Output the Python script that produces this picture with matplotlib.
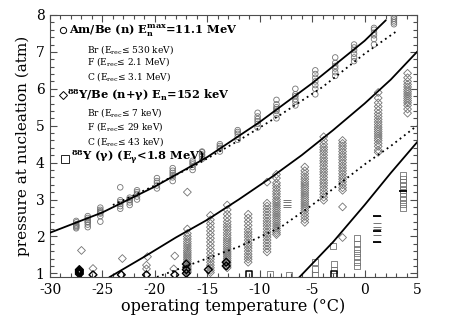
import matplotlib
matplotlib.use("Agg")
import matplotlib.pyplot as plt

plt.rcParams['font.family'] = ['DejaVu Serif', 'DejaVu Sans']
plt.rcParams['mathtext.fontset'] = 'dejavuserif'

# ---------------- data ----------------
# Am/Be (n) : circles, clusters per temperature
am_T = [-27.5, -26.4, -25.2, -23.3, -22.4, -21.7, -19.8, -18.3, -16.4, -15.5,
        -13.8, -12.1, -10.2, -8.4, -6.6, -4.7, -2.8, -1.0, 0.9, 2.8]
am_P = [
    [2.22, 2.28, 2.33, 2.38, 2.42, 2.30, 2.25],
    [2.25, 2.32, 2.38, 2.45, 2.50, 2.40, 2.55],
    [2.40, 2.55, 2.62, 2.68, 2.72, 2.78, 2.65],
    [2.75, 2.82, 2.88, 2.93, 2.98, 3.33],
    [2.85, 2.92, 2.98, 3.05, 3.00],
    [3.00, 3.08, 3.15, 3.20, 3.25],
    [3.30, 3.38, 3.45, 3.50, 3.58],
    [3.50, 3.60, 3.66, 3.72, 3.78, 3.85],
    [3.80, 3.88, 3.95, 4.00, 4.05],
    [4.10, 4.18, 4.22, 4.28, 4.30],
    [4.30, 4.38, 4.45, 4.50, 4.40],
    [4.62, 4.70, 4.78, 4.83, 4.88],
    [4.95, 5.05, 5.12, 5.18, 5.25, 5.35],
    [5.20, 5.30, 5.40, 5.45, 5.50, 5.58, 5.70],
    [5.55, 5.65, 5.72, 5.80, 5.85, 6.00],
    [5.85, 6.00, 6.10, 6.20, 6.30, 6.40, 6.50],
    [6.35, 6.45, 6.55, 6.62, 6.70, 6.85],
    [6.75, 6.85, 6.95, 7.05, 7.12, 7.20],
    [7.20, 7.35, 7.45, 7.52, 7.60, 7.65],
    [7.75, 7.80, 7.85, 7.90, 7.95],
]

# 88Y/Be (n+gamma) : diamonds, columns per temperature
ybe_T = [-16.9, -14.7, -13.1, -11.1, -9.3, -8.4, -5.7, -3.9, -2.1, 1.3, 4.1]
ybe_P = [
    [2.20, 2.08, 2.00, 1.93, 1.86, 1.80, 1.74, 1.68, 1.62, 1.57, 1.52, 1.47,
     1.42, 1.37, 1.32, 1.27, 1.22, 1.18, 1.14, 1.10, 1.06, 1.02],
    [2.57, 2.45, 2.35, 2.25, 2.15, 2.05, 1.95, 1.85, 1.75, 1.65, 1.55, 1.45,
     1.38, 1.30, 1.22, 1.15, 1.08, 1.02],
    [2.85, 2.72, 2.60, 2.50, 2.40, 2.32, 2.25, 2.18, 2.10, 2.03, 1.96, 1.90,
     1.84, 1.78, 1.72, 1.66, 1.60, 1.55, 1.50, 1.45, 1.40, 1.35, 1.30, 1.25,
     1.20, 1.15],
    [2.60, 2.50, 2.40, 2.30, 2.20, 2.12, 2.05, 1.98, 1.90, 1.82, 1.75, 1.68,
     1.60, 1.52, 1.45, 1.38, 1.30],
    [2.90, 2.82, 2.74, 2.66, 2.58, 2.50, 2.42, 2.35, 2.28, 2.20, 2.12, 2.05,
     1.98, 1.90, 1.82, 1.74, 1.66, 1.58],
    [3.58, 3.45, 3.38, 3.30, 3.22, 3.15, 3.08, 3.00, 2.94, 2.88, 2.82, 2.76,
     2.70, 2.64, 2.58, 2.52, 2.46, 2.40, 2.34, 2.28, 2.22, 2.16, 2.10, 2.05],
    [3.88, 3.78, 3.70, 3.62, 3.55, 3.48, 3.42, 3.36, 3.30, 3.24, 3.18, 3.12,
     3.06, 3.00, 2.94, 2.88, 2.82, 2.76, 2.70, 2.62, 2.54, 2.46, 2.38],
    [4.70, 4.60, 4.50, 4.42, 4.35, 4.28, 4.20, 4.12, 4.05, 3.98, 3.90, 3.82,
     3.75, 3.68, 3.60, 3.52, 3.45, 3.38, 3.30, 3.22, 3.14, 3.06, 2.98],
    [4.60, 4.52, 4.45, 4.38, 4.30, 4.22, 4.15, 4.08, 4.00, 3.92, 3.85, 3.78,
     3.70, 3.62, 3.55, 3.48, 3.40, 3.32, 3.25],
    [5.90, 5.75, 5.62, 5.52, 5.42, 5.33, 5.25, 5.17, 5.10, 5.03, 4.96, 4.90,
     4.84, 4.78, 4.72, 4.66, 4.60, 4.52, 4.44, 4.34],
    [6.42, 6.30, 6.20, 6.12, 6.05, 5.98, 5.92, 5.86, 5.80, 5.74, 5.68, 5.62,
     5.55, 5.45, 5.34],
]
# isolated diamonds
ybe_out_T = [-27.0, -25.9, -23.1, -20.7, -20.8, -20.8, -18.1, -18.2, -16.9,
             -9.3, -8.4, -2.1, -2.1, 1.3]
ybe_out_P = [1.62, 1.13, 1.40, 1.45, 1.22, 1.12, 1.47, 1.12, 3.20,
             3.47, 3.68, 2.80, 1.97, 4.28]
# heavy (overlapping) markers at the bottom
bold_T = [-27.2, -27.2, -27.2, -27.2, -27.2, -25.9, -23.2, -20.8, -18.1,
          -17.0, -17.0, -17.0, -14.9, -13.2, -13.2]
bold_P = [0.98, 1.01, 1.04, 1.07, 1.10, 0.96, 0.96, 0.96, 0.96,
          1.00, 1.10, 1.25, 1.10, 1.20, 1.30]

# 88Y (gamma) : squares
yg_T = [-9.0, -7.2, -4.7, -4.7, -4.7, -2.9, -2.9, -3.0,
        -0.7, -0.7, -0.7, -0.7, -0.7, -0.7, -0.7,
        3.7, 3.7, 3.7, 3.7, 3.7, 3.7, 3.7, 3.7, 3.7, 3.7]
yg_P = [0.97, 0.95, 0.95, 1.12, 1.30, 1.08, 1.25, 1.75,
        1.20, 1.30, 1.45, 1.55, 1.65, 1.80, 1.95,
        2.78, 2.88, 2.98, 3.08, 3.18, 3.26, 3.36, 3.46, 3.56, 3.65]
yg_bold_T = [-11.0, -2.9]
yg_bold_P = [0.97, 0.97]
# dash-like marks
dash_T = [-7.4, -7.4, -7.4, -7.4, 1.2, 1.2, 1.2, 1.2, 1.2, 1.2, 1.2]
dash_P = [2.80, 2.86, 2.92, 2.98, 1.85, 2.05, 2.15, 2.20, 2.25, 2.35, 2.55]
dash_bold_T = [1.2, 1.2, 1.2, 3.7]
dash_bold_P = [1.85, 2.15, 2.55, 3.22]

# fitted curves
fit_am_T = [-30, -25, -20, -15, -10, -5, 0, 2]
fit_am_P = [2.10, 2.65, 3.35, 4.15, 5.10, 6.15, 7.30, 7.85]
dot_am_T = [-24, -20, -16, -12, -8, -4, 0, 3]
dot_am_P = [2.85, 3.38, 3.95, 4.60, 5.30, 6.05, 6.95, 7.55]
fit_ybe_T = [-24.3, -21, -18, -15, -12, -9, -6, -3, 0, 2.5, 5]
fit_ybe_P = [0.90, 1.45, 1.97, 2.45, 3.00, 3.58, 4.20, 4.88, 5.60, 6.25, 7.00]
dot_ybe_T = [-19.8, -16, -12, -8, -5, -2.5, 0, 2.5, 5]
dot_ybe_P = [0.90, 1.30, 1.72, 2.25, 2.85, 3.40, 3.95, 4.45, 5.00]
fit_yg_T = [-6.2, -3, 0, 2.5, 5]
fit_yg_P = [0.90, 1.85, 2.85, 3.72, 4.55]

# ---------------- plot ----------------
fig = plt.figure(figsize=(4.71, 3.19), dpi=100)
ax = fig.add_axes([50/471, 1-277/319, 367/471, 262/319])

gray = '0.45'
ms = 16
for t, ps in zip(am_T, am_P):
    ax.scatter([t]*len(ps), ps, s=ms, marker='o', facecolors='none',
               edgecolors=gray, linewidths=0.6, zorder=3)
for t, ps in zip(ybe_T, ybe_P):
    ax.scatter([t]*len(ps), ps, s=ms, marker='D', facecolors='none',
               edgecolors=gray, linewidths=0.6, zorder=3)
ax.scatter(ybe_out_T, ybe_out_P, s=ms, marker='D', facecolors='none',
           edgecolors=gray, linewidths=0.6, zorder=3)
ax.scatter(bold_T, bold_P, s=ms, marker='D', facecolors='none',
           edgecolors='black', linewidths=1.0, zorder=3)
ax.scatter(yg_T, yg_P, s=ms+4, marker='s', facecolors='none',
           edgecolors=gray, linewidths=0.6, zorder=3)
ax.scatter(yg_bold_T, yg_bold_P, s=ms+4, marker='s', facecolors='none',
           edgecolors='black', linewidths=1.1, zorder=3)
ax.scatter(dash_T, dash_P, s=30, marker='_', color=gray, linewidths=0.7, zorder=3)
ax.scatter(dash_bold_T, dash_bold_P, s=30, marker='_', color='black',
           linewidths=1.3, zorder=3)

ax.plot(fit_am_T, fit_am_P, color='black', lw=1.3, zorder=4)
ax.plot(dot_am_T, dot_am_P, color='black', lw=1.3, ls=(0, (1, 2)), zorder=4)
ax.plot(fit_ybe_T, fit_ybe_P, color='black', lw=1.3, zorder=4)
ax.plot(dot_ybe_T, dot_ybe_P, color='black', lw=1.3, ls=(0, (1, 2)), zorder=4)
ax.plot(fit_yg_T, fit_yg_P, color='black', lw=1.3, zorder=4)

ax.set_xlim(-30, 5)
ax.set_ylim(0.9, 8)
ax.set_xticks([-30, -25, -20, -15, -10, -5, 0, 5])
ax.set_xticklabels(['-30', '-25', '-20', '-15', '-10', '-5', '0', '5'])
ax.set_yticks([1, 2, 3, 4, 5, 6, 7, 8])
ax.xaxis.set_minor_locator(matplotlib.ticker.MultipleLocator(1))
ax.yaxis.set_minor_locator(matplotlib.ticker.MultipleLocator(0.2))
ax.tick_params(which='both', direction='in', top=True, right=True,
               labelsize=10, color='0.3', width=0.8)
ax.tick_params(which='major', length=5, pad=4)
ax.tick_params(which='minor', length=3)
for s in ax.spines.values():
    s.set_linewidth(0.8)
    s.set_color('0.3')

ax.set_xlabel('operating temperature (°C)', fontsize=11.5, labelpad=1)
ax.set_ylabel('pressure at nucleation (atm)', fontsize=11, labelpad=4)

# legend-like annotation block
tr = ax.transAxes
ax.plot([0.036], [0.943], marker='o', ms=4.5, mfc='none', mec='black',
        mew=0.7, transform=tr, clip_on=False)
ax.text(0.052, 0.943, r'Am/Be (n) E$_\mathregular{n}^\mathregular{max}$=11.1 MeV',
        transform=tr, fontsize=8.2, fontweight='bold', va='center')
small = [(0.870, r'Br (E$_\mathregular{rec}$≤ 530 keV)'),
         (0.821, r'F (E$_\mathregular{rec}$≤ 2.1 MeV)'),
         (0.767, r'C (E$_\mathregular{rec}$≤ 3.1 MeV)'),
         (0.626, r'Br (E$_\mathregular{rec}$≤ 7 keV)'),
         (0.573, r'F (E$_\mathregular{rec}$≤ 29 keV)'),
         (0.519, r'C (E$_\mathregular{rec}$≤ 43 keV)')]
for yy, s in small:
    ax.text(0.101, yy, s, transform=tr, fontsize=6.5, va='center')
ax.plot([0.036], [0.695], marker='D', ms=4, mfc='none', mec='black',
        mew=0.7, transform=tr, clip_on=False)
ax.text(0.046, 0.695, r'$^\mathregular{88}$Y/Be (n+γ) E$_\mathregular{n}$=152 keV',
        transform=tr, fontsize=8.2, fontweight='bold', va='center')
ax.plot([0.041], [0.452], marker='s', ms=5.5, mfc='white', mec='black',
        mew=0.6, transform=tr, clip_on=False, zorder=6)
ax.text(0.056, 0.454, r'$^\mathregular{88}$Y (γ) (E$_\mathregular{γ}$<1.8 MeV)',
        transform=tr, fontsize=8.2, fontweight='bold', va='center')

fig.savefig('out.png', dpi=100)
